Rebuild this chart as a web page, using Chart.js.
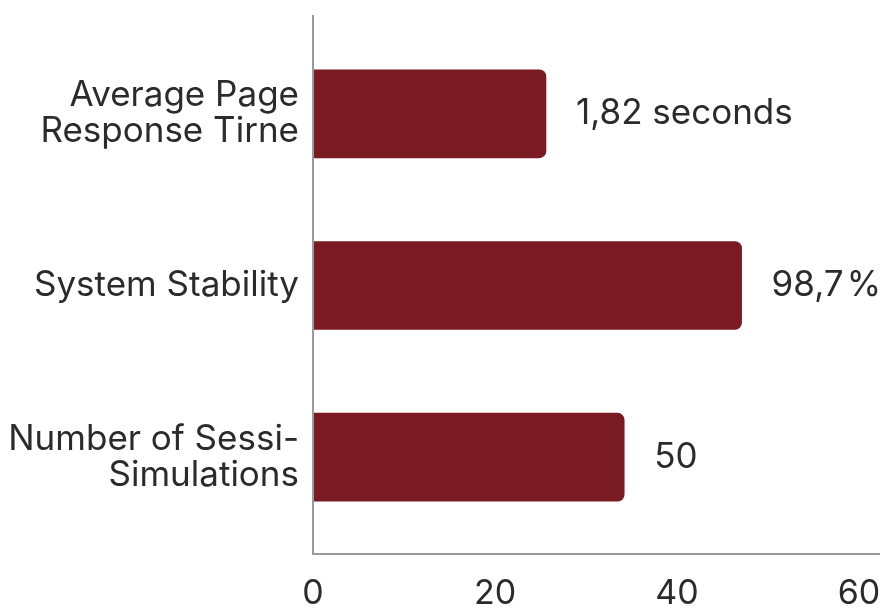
<!DOCTYPE html>
<html>
<head>
<meta charset="utf-8">
<script src="https://cdn.jsdelivr.net/npm/chart.js@4"></script>
<style>
  html,body{margin:0;padding:0;background:#fff;}
  #wrap{width:885px;height:608px;}
</style>
</head>
<body>
<div id="wrap"><canvas id="c"></canvas></div>
<script>
// data
const categories = [["Average Page","Response Tirne"], "System Stability", ["Number of Sessi-","Simulations"]];
const values = [25.6, 47.1, 34.2];
const valueLabels = ["1,82 seconds", "98,7\u200a%", "50"];
const xTicks = [0, 20, 40, 60];

const BAR = "#7a1b24";
const INK = "#2b2b2b";
const FONT = "Inter, 'Noto Sans', sans-serif";

// axis lines a bit longer than the plot area, plus the value labels
const extras = {
  id: "extras",
  afterDatasetsDraw(chart){
    const {ctx, chartArea:a} = chart;
    ctx.save();
    ctx.strokeStyle = "#9a9a9a"; ctx.lineWidth = 2;
    ctx.beginPath();
    ctx.moveTo(a.left, a.top-13); ctx.lineTo(a.left, a.bottom+11);
    ctx.lineTo(a.right+21, a.bottom+11);
    ctx.stroke();
    ctx.fillStyle = INK; ctx.font = "35px " + FONT;
    ctx.textBaseline = "middle"; ctx.textAlign = "left";
    chart.getDatasetMeta(0).data.forEach((bar,i)=>{
      ctx.fillText(valueLabels[i], bar.x + 30, bar.y);
    });
    ctx.restore();
  }
};

new Chart(document.getElementById("c"), {
  type: "bar",
  data: { labels: categories,
    datasets: [{ data: values, backgroundColor: BAR, barThickness: 88,
      borderRadius: {topRight:7, bottomRight:7, topLeft:0, bottomLeft:0}, borderSkipped: "start" }] },
  options: {
    indexAxis: "y", responsive: true, maintainAspectRatio: false, animation: false,
    layout: { padding: {top: 28, right: 26, left: 0, bottom: 0} },
    plugins: { legend:{display:false}, tooltip:{enabled:false} },
    scales: {
      x: { min: 0, max: 60, afterBuildTicks: s => { s.ticks = xTicks.map(v=>({value:v})); },
        grid:{display:false}, border:{display:false},
        ticks:{ color: INK, font:{family:FONT, size:34}, padding: 22 },
        afterFit: s => { s.height = 65; s.paddingLeft = 0; s.paddingRight = 0; } },
      y: { grid:{display:false}, border:{display:false},
        ticks:{ color: INK, font:{family:FONT, size:35, lineHeight:1.03}, padding: 6 },
        afterFit: s => { s.width = 313; s.paddingTop = 0; s.paddingBottom = 0; } }
    }
  },
  plugins: [extras]
});
</script>
</body>
</html>
